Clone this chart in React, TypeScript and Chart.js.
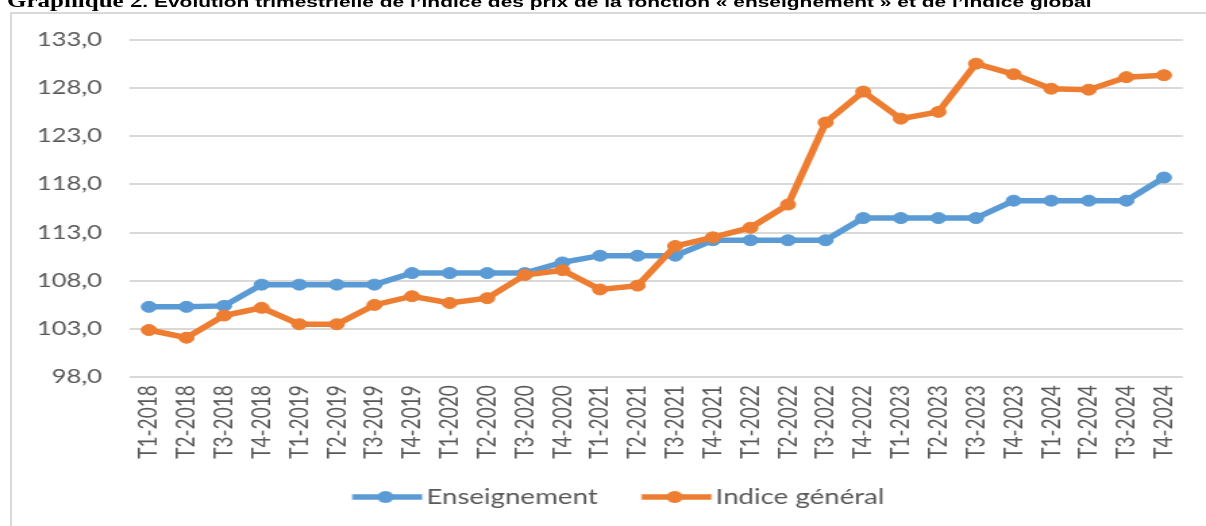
import React, { useEffect, useRef } from 'react';
import { Chart, registerables } from 'chart.js';

Chart.register(...registerables);

const categories = [
  'T1-2018', 'T2-2018', 'T3-2018', 'T4-2018',
  'T1-2019', 'T2-2019', 'T3-2019', 'T4-2019',
  'T1-2020', 'T2-2020', 'T3-2020', 'T4-2020',
  'T1-2021', 'T2-2021', 'T3-2021', 'T4-2021',
  'T1-2022', 'T2-2022', 'T3-2022', 'T4-2022',
  'T1-2023', 'T2-2023', 'T3-2023', 'T4-2023',
  'T1-2024', 'T2-2024', 'T3-2024', 'T4-2024',
];

const enseignement = [
  105.3, 105.3, 105.4, 107.6,
  107.6, 107.6, 107.6, 108.8,
  108.8, 108.8, 108.8, 109.9,
  110.6, 110.6, 110.6, 112.2,
  112.2, 112.2, 112.2, 114.5,
  114.5, 114.5, 114.5, 116.3,
  116.3, 116.3, 116.3, 118.7,
];

const indiceGeneral = [
  102.9, 102.1, 104.4, 105.2,
  103.5, 103.5, 105.5, 106.4,
  105.7, 106.2, 108.6, 109.1,
  107.1, 107.5, 111.6, 112.5,
  113.5, 115.9, 124.4, 127.6,
  124.8, 125.5, 130.5, 129.4,
  127.9, 127.8, 129.1, 129.3,
];

const seriesNames = ['Enseignement', 'Indice général'];
const seriesColors = ['#5B9BD5', '#ED7D31'];
const yMin = 98;
const yMax = 133;
const yStep = 5;

const titleLead = 'Graphique 2';
const titleRest = '. Evolution trimestrielle de l\u2019indice des prix de la fonction \u00ab enseignement \u00bb et de l\u2019indice global';

const S = 1206 / 893;
const W = 893;
const H = 526;

function legendSwatch(color: string): HTMLCanvasElement {
  const c = document.createElement('canvas');
  c.width = 100;
  c.height = 16;
  const ctx = c.getContext('2d')!;
  ctx.strokeStyle = color;
  ctx.lineWidth = 5.5;
  ctx.beginPath();
  ctx.moveTo(36.4, 8);
  ctx.lineTo(88.2, 8);
  ctx.stroke();
  ctx.fillStyle = color;
  ctx.beginPath();
  ctx.arc(61, 8, 6, 0, Math.PI * 2);
  ctx.fill();
  return c;
}

export default function App() {
  const canvasRef = useRef<HTMLCanvasElement | null>(null);

  useEffect(() => {
    const canvas = canvasRef.current;
    if (!canvas) return;
    const swatches = seriesColors.map(legendSwatch);
    const series = [enseignement, indiceGeneral];

    const chart = new Chart(canvas, {
      type: 'line',
      data: {
        labels: categories,
        datasets: series.map((d, i) => ({
          label: seriesNames[i],
          data: d,
          borderColor: seriesColors[i],
          backgroundColor: seriesColors[i],
          pointBackgroundColor: seriesColors[i],
          pointBorderColor: seriesColors[i],
          borderWidth: 5.5,
          pointRadius: 5.5,
          pointBorderWidth: 1,
          tension: 0,
          order: i === 0 ? 1 : 0,
        })),
      },
      options: {
        responsive: false,
        animation: false,
        font: { family: 'Lato' },
        layout: { padding: { left: 21.95, right: 16.7, top: 39.5, bottom: 8.75 } },
        scales: {
          x: {
            offset: true,
            grid: { display: false, drawTicks: false },
            border: { display: false },
            ticks: {
              minRotation: 90,
              maxRotation: 90,
              autoSkip: false,
              padding: 8,
              color: '#595959',
              font: { family: 'Lato', size: 19 },
            },
            afterFit: (s: any) => {
              s.height = 94.4;
            },
          },
          y: {
            min: yMin,
            max: yMax,
            grid: { color: '#d9d9d9', lineWidth: 2, drawTicks: false },
            border: { display: false },
            ticks: {
              stepSize: yStep,
              padding: 20.7,
              color: '#595959',
              font: { family: 'Lato', size: 19 },
              callback: (v: any) => Number(v).toFixed(1).replace('.', ','),
            },
            afterFit: (s: any) => {
              s.width = 74.35;
            },
          },
        },
        plugins: {
          legend: {
            position: 'bottom',
            labels: {
              usePointStyle: true,
              pointStyleWidth: 62,
              padding: 15.05,
              color: '#595959',
              font: { family: 'Lato', size: 20.5 },
              generateLabels: (ch: any) => {
                const items = Chart.defaults.plugins.legend.labels.generateLabels(ch);
                return items
                  .sort((a: any, b: any) => a.datasetIndex - b.datasetIndex)
                  .map((it: any) => ({ ...it, pointStyle: swatches[it.datasetIndex] }));
              },
            },
          },
          tooltip: { enabled: false },
          title: { display: false },
        },
      } as any,
    });

    return () => chart.destroy();
  }, []);

  return (
    <div
      style={{
        position: 'fixed',
        left: 0,
        top: 0,
        width: 1206,
        height: 526,
        overflow: 'hidden',
        background: '#ffffff',
      }}
    >
      <div
        style={{
          position: 'absolute',
          left: 10,
          top: 12,
          width: 1400,
          height: 800,
          border: '2px solid #d9d9d9',
          boxSizing: 'border-box',
        }}
      />
      <div
        style={{
          position: 'absolute',
          left: 0,
          top: 0,
          width: W,
          height: H,
          transform: `scaleX(${S})`,
          transformOrigin: '0 0',
        }}
      >
        <div
          style={{
            position: 'absolute',
            left: 5.2,
            top: -11.5,
            whiteSpace: 'nowrap',
            lineHeight: '24px',
            fontWeight: 'bold',
            color: '#000',
          }}
        >
          <span style={{ fontFamily: '"Liberation Serif", serif', fontSize: 18.5 }}>{titleLead}</span>
          <span style={{ fontFamily: '"Liberation Sans", Arial, sans-serif', fontSize: 15.5 }}>{titleRest}</span>
        </div>
        <canvas
          ref={canvasRef}
          width={W}
          height={H}
          style={{ position: 'absolute', left: 0, top: 0, width: W, height: H, display: 'block' }}
        />
      </div>
    </div>
  );
}
